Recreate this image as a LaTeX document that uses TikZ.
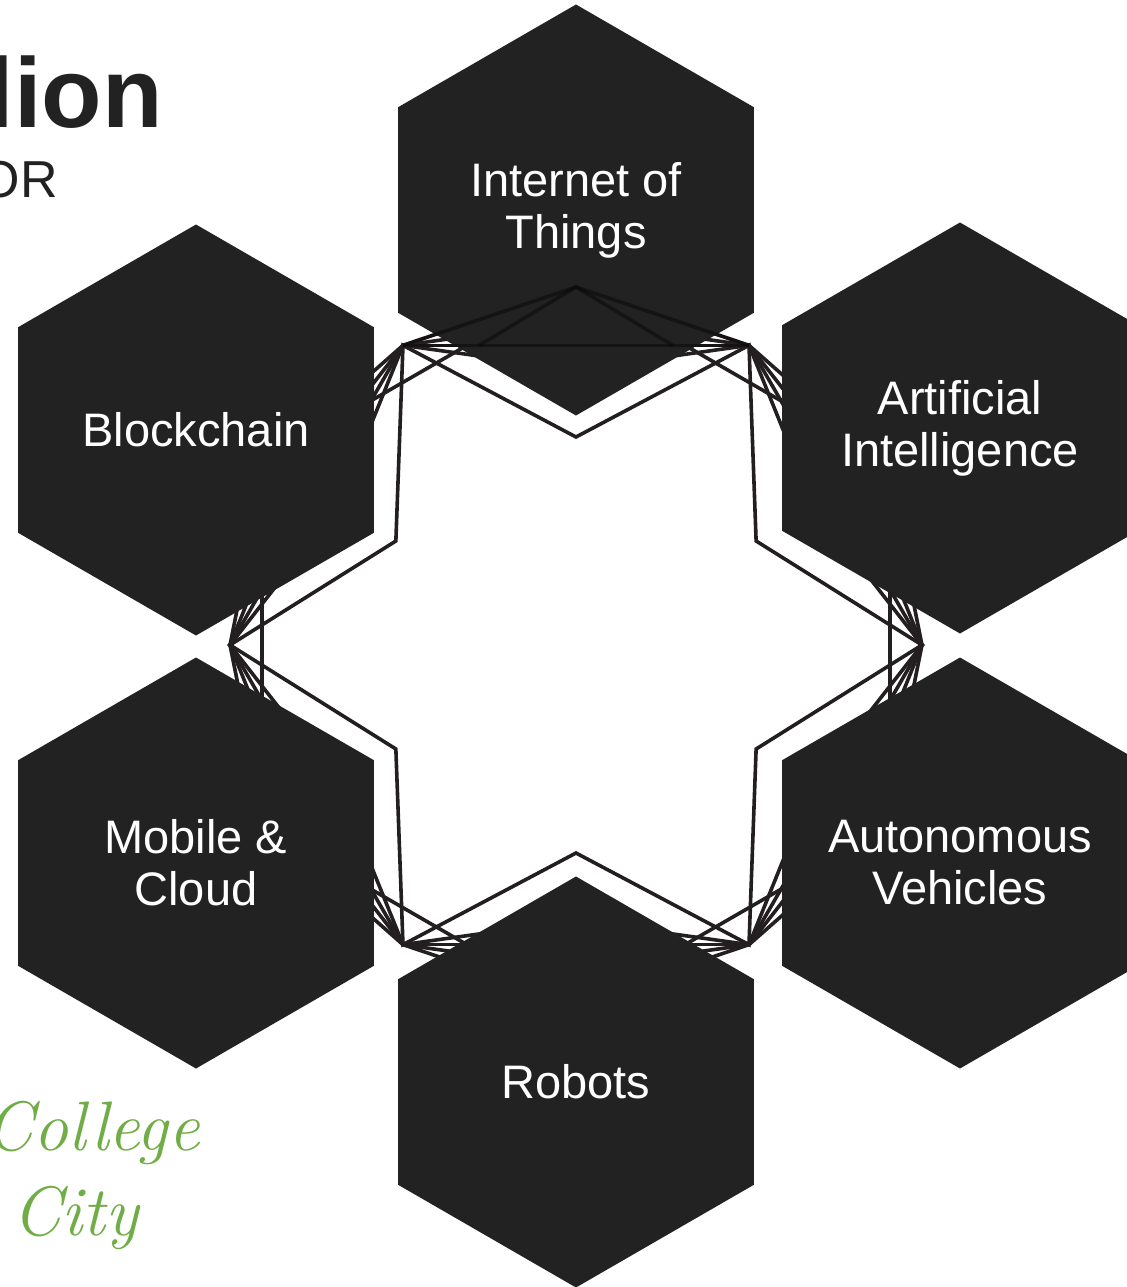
\documentclass[tikz,border=0pt]{standalone}
\usepackage{fontspec}
\setmainfont{Liberation Sans}
\newfontfamily\handfont{Latin Modern Roman}
\usetikzlibrary{shapes, positioning, calc}
\definecolor{hexgray}{HTML}{222222}
\definecolor{wiregray}{HTML}{231F20}
\definecolor{leafgreen}{HTML}{70AD47}
\tikzstyle{hexa} = [regular polygon, regular polygon sides=6, shape border rotate=30, fill=hexgray, draw=none, minimum size=205.5pt, inner sep=0pt, inner xsep=-25pt, text=white, align=center, font=\fontsize{23.5}{26}\selectfont]
\tikzstyle{wire} = [draw=wiregray, line width=1.8pt, line join=miter]
\tikzstyle{ghost} = [draw=black, draw opacity=0.4, line width=1.8pt]
\tikzstyle{heading} = [text=hexgray, inner sep=0pt]
\tikzstyle{script} = [text=leafgreen, inner sep=0pt, font=\handfont\itshape\fontsize{35}{40}\selectfont]

\begin{document}
\begin{tikzpicture}[x=0.5pt, y=0.5pt]
	\useasboundingbox (-576,-642) rectangle (551,645);
	% star wireframe
	\draw[wire] (0:346) \foreach \a in {0,60,...,300}{ -- (\a+30:208) -- (\a+60:346)} -- cycle;
	\foreach \a in {0,60,...,300}{
		\draw[wire] (\a:346) -- (\a+60:346);
		\draw[wire] (\a:346) -- (\a+30:358) -- (\a+60:346);
		\draw[wire] ($(\a:346)!0.22!(\a+60:346)$) -- (\a+30:358) -- ($(\a:346)!0.78!(\a+60:346)$);
		\draw[wire] ($(\a:314)+(\a+90:60)$) -- ($(\a:314)+(\a-90:60)$);
		\foreach \f in {52,68,-52,-68}
			\draw[wire] (\a:346) -- ++(\a+180+\f:110);
	}
	\node[hexa] (iot) at (0,435) {Internet of\\Things};
	\node[hexa] (ai) at (384,217) {Artificial\\Intelligence};
	\node[hexa] (av) at (384,-218) {Autonomous\\Vehicles};
	\node[hexa] (robots) at (0,-437) {Robots};
	\node[hexa] (mobile) at (-380,-218) {Mobile \&\\Cloud};
	\node[hexa] (blockchain) at (-380,215) {Blockchain};
	% lines showing through the top hexagon
	\draw[ghost] (60:346) -- (120:346);
	\draw[ghost] (60:346) -- (90:358) -- (120:346);
	\draw[ghost] ($(60:346)!0.22!(120:346)$) -- (90:358) -- ($(60:346)!0.78!(120:346)$);
	\node[heading, font=\bfseries\fontsize{49.5}{50}\selectfont, anchor=base east] (title) at (-413,517) {llion};
	\node[heading, font=\fontsize{26}{30}\selectfont, anchor=base east] (subtitle) at (-518,448) {OR};
	\node[script, anchor=base east] (college) at (-376,-505) {College};
	\node[script, anchor=base west] (city) at (-564,-590) {City};
\end{tikzpicture}
\end{document}
